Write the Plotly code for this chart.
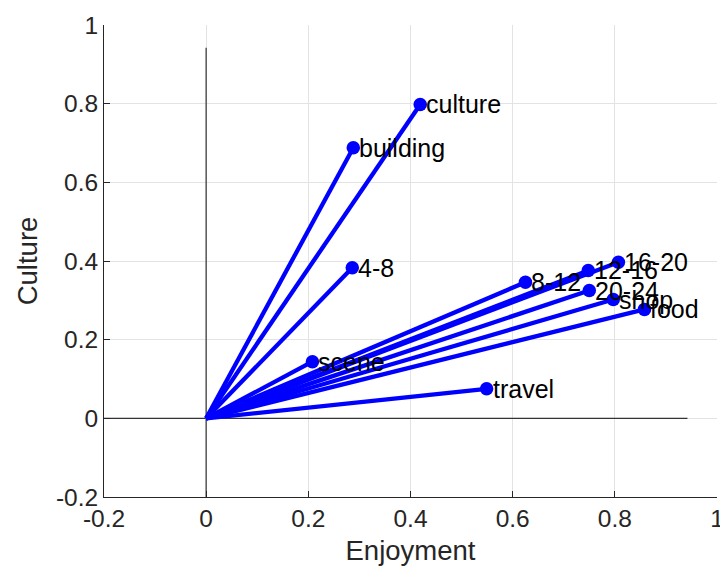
import numpy as np
import plotly.graph_objects as go

# Loadings of each variable on the two retained components
names = ["culture", "building", "4-8", "scene", "travel",
         "8-12", "12-16", "16-20", "20-24", "shop", "food"]
enjoyment = [0.419, 0.288, 0.286, 0.208, 0.549,
             0.625, 0.748, 0.807, 0.750, 0.797, 0.858]
culture = [0.798, 0.688, 0.383, 0.144, 0.075,
           0.346, 0.376, 0.397, 0.325, 0.302, 0.277]

x_ticks = [-0.2, 0, 0.2, 0.4, 0.6, 0.8, 1]
y_ticks = [-0.2, 0, 0.2, 0.4, 0.6, 0.8, 1]

BLUE = "#0000FF"
AXIS_GREY = "#262626"
FONT = "Liberation Sans, Arial, sans-serif"

fig = go.Figure()

# Reference axes through the origin, spanning slightly past the longest vector
axlen = 1.045 * max(np.hypot(enjoyment, culture))
fig.add_trace(go.Scatter(x=[-axlen, axlen], y=[0, 0], mode="lines",
                         line=dict(color="#333333", width=1.2),
                         hoverinfo="skip", showlegend=False))
fig.add_trace(go.Scatter(x=[0, 0], y=[-axlen, axlen], mode="lines",
                         line=dict(color="#555555", width=1.5),
                         hoverinfo="skip", showlegend=False))

# One vector from the origin to each variable's loading
for xv, yv in zip(enjoyment, culture):
    fig.add_trace(go.Scatter(x=[0, xv], y=[0, yv], mode="lines",
                             line=dict(color=BLUE, width=4.3),
                             hoverinfo="skip", showlegend=False))

fig.add_trace(go.Scatter(x=enjoyment, y=culture, mode="markers",
                         marker=dict(color=BLUE, size=13.5),
                         text=names, hoverinfo="text", showlegend=False))

for name, xv, yv in zip(names, enjoyment, culture):
    fig.add_annotation(x=xv, y=yv, text=name, showarrow=False,
                       xanchor="left", yanchor="middle", xshift=4,
                       font=dict(family=FONT, size=25, color="#000000"))

axis_common = dict(
    automargin=False,
    showgrid=True, gridcolor="#E3E3E3", gridwidth=1,
    zeroline=False,
    showline=True, linecolor=AXIS_GREY, linewidth=1,
    ticks="inside", ticklen=6, tickcolor=AXIS_GREY, tickwidth=1,
    ticklabeloverflow="allow",
    tickfont=dict(family=FONT, size=24.5, color=AXIS_GREY),
    title_font=dict(family=FONT, size=27.5, color=AXIS_GREY),
)

fig.update_xaxes(range=[-0.2, 1], tickvals=x_ticks,
                 ticktext=[f"{v:g}" for v in x_ticks],
                 title_text="Enjoyment", title_standoff=9, **axis_common)
fig.update_yaxes(range=[-0.2, 1], tickvals=y_ticks,
                 ticktext=[f"{v:g}" for v in y_ticks],
                 title_text="Culture", title_standoff=10, **axis_common)

fig.update_layout(
    width=720, height=572,
    margin=dict(l=104, r=3, t=25, b=75),
    paper_bgcolor="white", plot_bgcolor="white",
    font=dict(family=FONT),
)

fig.write_html("out.html")
